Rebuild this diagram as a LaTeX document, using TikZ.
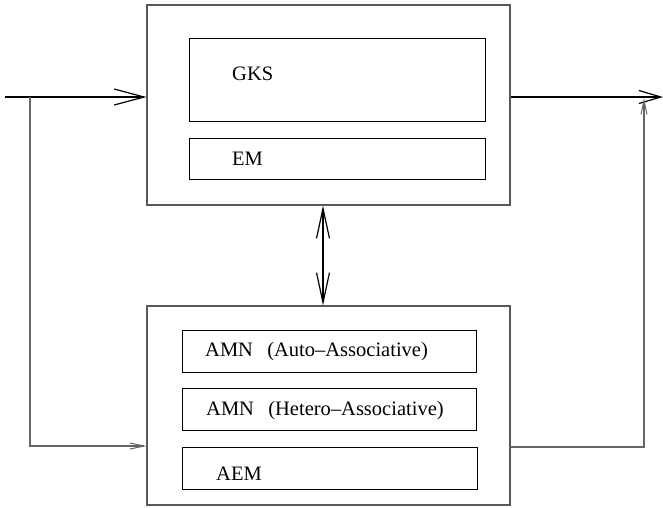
\documentclass[tikz,border=0pt]{standalone}
\usepackage{fontspec}
\setmainfont{Liberation Serif}
\usetikzlibrary{arrows.meta,calc}
\begin{document}
\begin{tikzpicture}[x=1pt,y=-1pt,
  outerbox/.style={draw=black!65,line width=1.1pt,minimum width=363pt,inner sep=0pt},
  innerbox/.style={draw=black,line width=0.9pt,inner sep=0pt},
  lbl/.style={anchor=base west,inner sep=0pt,font=\fontsize{20.5}{24}\selectfont},
  mainline/.style={draw=black,line width=1.2pt},
  fbline/.style={draw=black!60,line width=1.1pt},
  bigbarb/.style={-{Straight Barb[length=30pt,width=16pt,line width=1.2pt]}},
  outbarb/.style={-{Straight Barb[length=22pt,width=13pt,line width=1.2pt]}},
  smallbarb/.style={-{Straight Barb[length=14pt,width=6pt,line width=1pt]}},
  dblbarb/.style={{Straight Barb[length=30pt,width=13pt,line width=1.2pt]}-{Straight Barb[length=30pt,width=13pt,line width=1.2pt]}}]
\useasboundingbox (0,0) rectangle (663,507);
% boxes
\node[outerbox,minimum height=200pt] (top) at (328.5,105) {};
\node[innerbox,minimum width=296pt,minimum height=83pt] (gks) at (337,79.5) {};
\node[innerbox,minimum width=296pt,minimum height=41pt] (em) at (337,158.5) {};
\node[outerbox,minimum height=199pt] (bot) at (328.5,405.5) {};
\node[innerbox,minimum width=294pt,minimum height=42pt] (amn1) at (329,351) {};
\node[innerbox,minimum width=294pt,minimum height=42pt] (amn2) at (329,409) {};
\node[innerbox,minimum width=295pt,minimum height=42pt] (aem) at (329.5,468) {};
% labels
\node[lbl] (tgks) at (232,80.5) {GKS};
\node[lbl] (tem) at (232,165) {EM};
\node[lbl] (tamn1) at (205,356.5) {AMN\hspace{0.7em}(Auto--Associative)};
\node[lbl] (tamn2) at (206,415) {AMN\hspace{0.7em}(Hetero--Associative)};
\node[lbl] (taem) at (216,480) {AEM};
% connector points
\coordinate (in) at (5,97);
\coordinate (branch) at (30,97);
\coordinate (fbl) at (30,446);
\coordinate (out) at (663,97);
\coordinate (fbr) at (644,447);
\coordinate (fbrtip) at (644,98);
\coordinate (mid) at (323,0);
% connectors
\draw[mainline,bigbarb] (in) -- (in -| top.west);
\draw[mainline,outbarb] (top.east |- in) -- (out);
\draw[fbline,smallbarb] (branch) -- (fbl) -- (fbl -| bot.west);
\draw[fbline,smallbarb] (fbr -| bot.east) -- (fbr) -- (fbrtip);
\draw[mainline,dblbarb] (mid |- top.south) -- (mid |- bot.north);
\end{tikzpicture}
\end{document}
